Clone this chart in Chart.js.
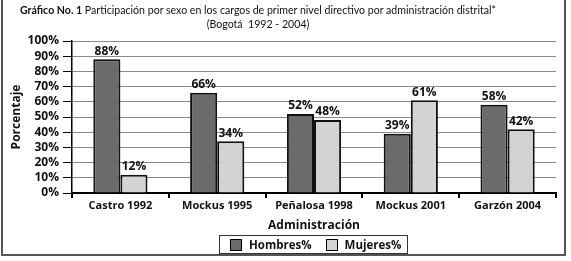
<!DOCTYPE html>
<html>
<head>
<meta charset="utf-8">
<script src="https://cdn.jsdelivr.net/npm/chart.js@4"></script>
<style>
  body { margin: 0; background: #fff; }
  #wrap { position: relative; width: 571px; height: 261px; overflow: hidden; }
  #frame { position: absolute; left: 1px; top: -3px; width: 565px; height: 259px; border: 2px solid #555; box-sizing: border-box; }
  #title { position: absolute; left: -50px; top: 3px; width: 616px; text-align: center; white-space: nowrap; font-family: Lato, sans-serif; font-size: 10.6px; line-height: 14px; color: #111; }
  #title b { font-weight: bold; }
  #legend { position: absolute; left: 219px; top: 235px; width: 189px; height: 19px; border: 1px solid #333; box-sizing: border-box;
            font-family: "Open Sans", sans-serif; font-weight: bold; font-size: 11.5px; color: #111; display: flex; align-items: center; }
  .sw { display: inline-block; width: 10px; height: 10px; border: 1px solid #000; margin-right: 7px; }
  .item { display: flex; align-items: center; }
</style>
</head>
<body>
<div id="wrap">
  <canvas id="chart" width="571" height="261"></canvas>
  <div id="frame"></div>
  <div id="title"><b>Gráfico No. 1</b> Participación por sexo en los cargos de primer nivel directivo por administración distrital*<br>(Bogotá&nbsp; 1992 - 2004)</div>
  <div id="legend">
    <span class="item" style="margin-left:10px"><span class="sw" style="background:#6b6b6b"></span>Hombres%</span>
    <span class="item" style="margin-left:14px"><span class="sw" style="background:#d3d3d3"></span>Mujeres%</span>
  </div>
</div>
<script>
// Administraciones (categorias del eje X)
const categories = ['Castro 1992', 'Mockus 1995', 'Peñalosa 1998', 'Mockus 2001', 'Garzón 2004'];
// Porcentajes
const hombres = [88, 66, 52, 39, 58];
const mujeres = [12, 34, 48, 61, 42];
const yTicks = [0, 10, 20, 30, 40, 50, 60, 70, 80, 90, 100];

// Dibuja el porcentaje encima de cada barra
const barLabels = {
    id: 'barLabels',
    afterDatasetsDraw(chart) {
        const ctx = chart.ctx;
        ctx.save();
        ctx.font = 'bold 12px "Open Sans", sans-serif';
        ctx.fillStyle = '#111';
        ctx.textAlign = 'center';
        ctx.textBaseline = 'middle';
        chart.data.datasets.forEach((ds, i) => {
            chart.getDatasetMeta(i).data.forEach((bar, j) => {
                ctx.fillText(ds.data[j] + '%', bar.x, bar.y - 8);
            });
        });
        ctx.restore();
    }
};

new Chart(document.getElementById('chart'), {
    type: 'bar',
    data: {
        labels: categories,
        datasets: [
            {
                label: 'Hombres%',
                data: hombres,
                backgroundColor: '#6b6b6b',
                borderColor: '#111',
                borderWidth: 2,
                categoryPercentage: 0.56,
                barPercentage: 1
            },
            {
                label: 'Mujeres%',
                data: mujeres,
                backgroundColor: '#d3d3d3',
                borderColor: '#111',
                borderWidth: 2,
                categoryPercentage: 0.56,
                barPercentage: 1
            }
        ]
    },
    options: {
        responsive: false,
        animation: false,
        layout: { padding: { top: 41, right: 15, bottom: 28, left: 0 } },
        plugins: {
            legend: { display: false },
            tooltip: { enabled: false }
        },
        scales: {
            x: {
                border: { color: '#000', width: 2 },
                grid: { drawOnChartArea: false, drawTicks: true, tickLength: 5, color: '#000', lineWidth: 2, offset: true },
                ticks: { color: '#111', padding: 1, font: { family: 'Open Sans', weight: 'bold', size: 11 } },
                title: {
                    display: true,
                    text: 'Administración',
                    color: '#111',
                    padding: { top: 2, bottom: 0 },
                    font: { family: 'Open Sans', weight: 'bold', size: 12 }
                },
                afterFit(scale) { scale.height = 40; }
            },
            y: {
                min: 0,
                max: 100,
                border: { color: '#000', width: 1.5 },
                grid: { color: '#8a8a8a', tickColor: '#000', tickLength: 9, lineWidth: 1 },
                afterBuildTicks(scale) { scale.ticks = yTicks.map(v => ({ value: v })); },
                ticks: {
                    autoSkip: false,
                    color: '#111',
                    padding: 4,
                    font: { family: 'Open Sans', weight: 'bold', size: 12 },
                    callback: v => v + '%'
                },
                title: {
                    display: true,
                    text: 'Porcentaje',
                    color: '#111',
                    padding: { top: 9, bottom: 0 },
                    font: { family: 'Open Sans', weight: 'bold', size: 12 }
                },
                afterFit(scale) { scale.width = 72; }
            }
        }
    },
    plugins: [barLabels]
});
</script>
</body>
</html>
